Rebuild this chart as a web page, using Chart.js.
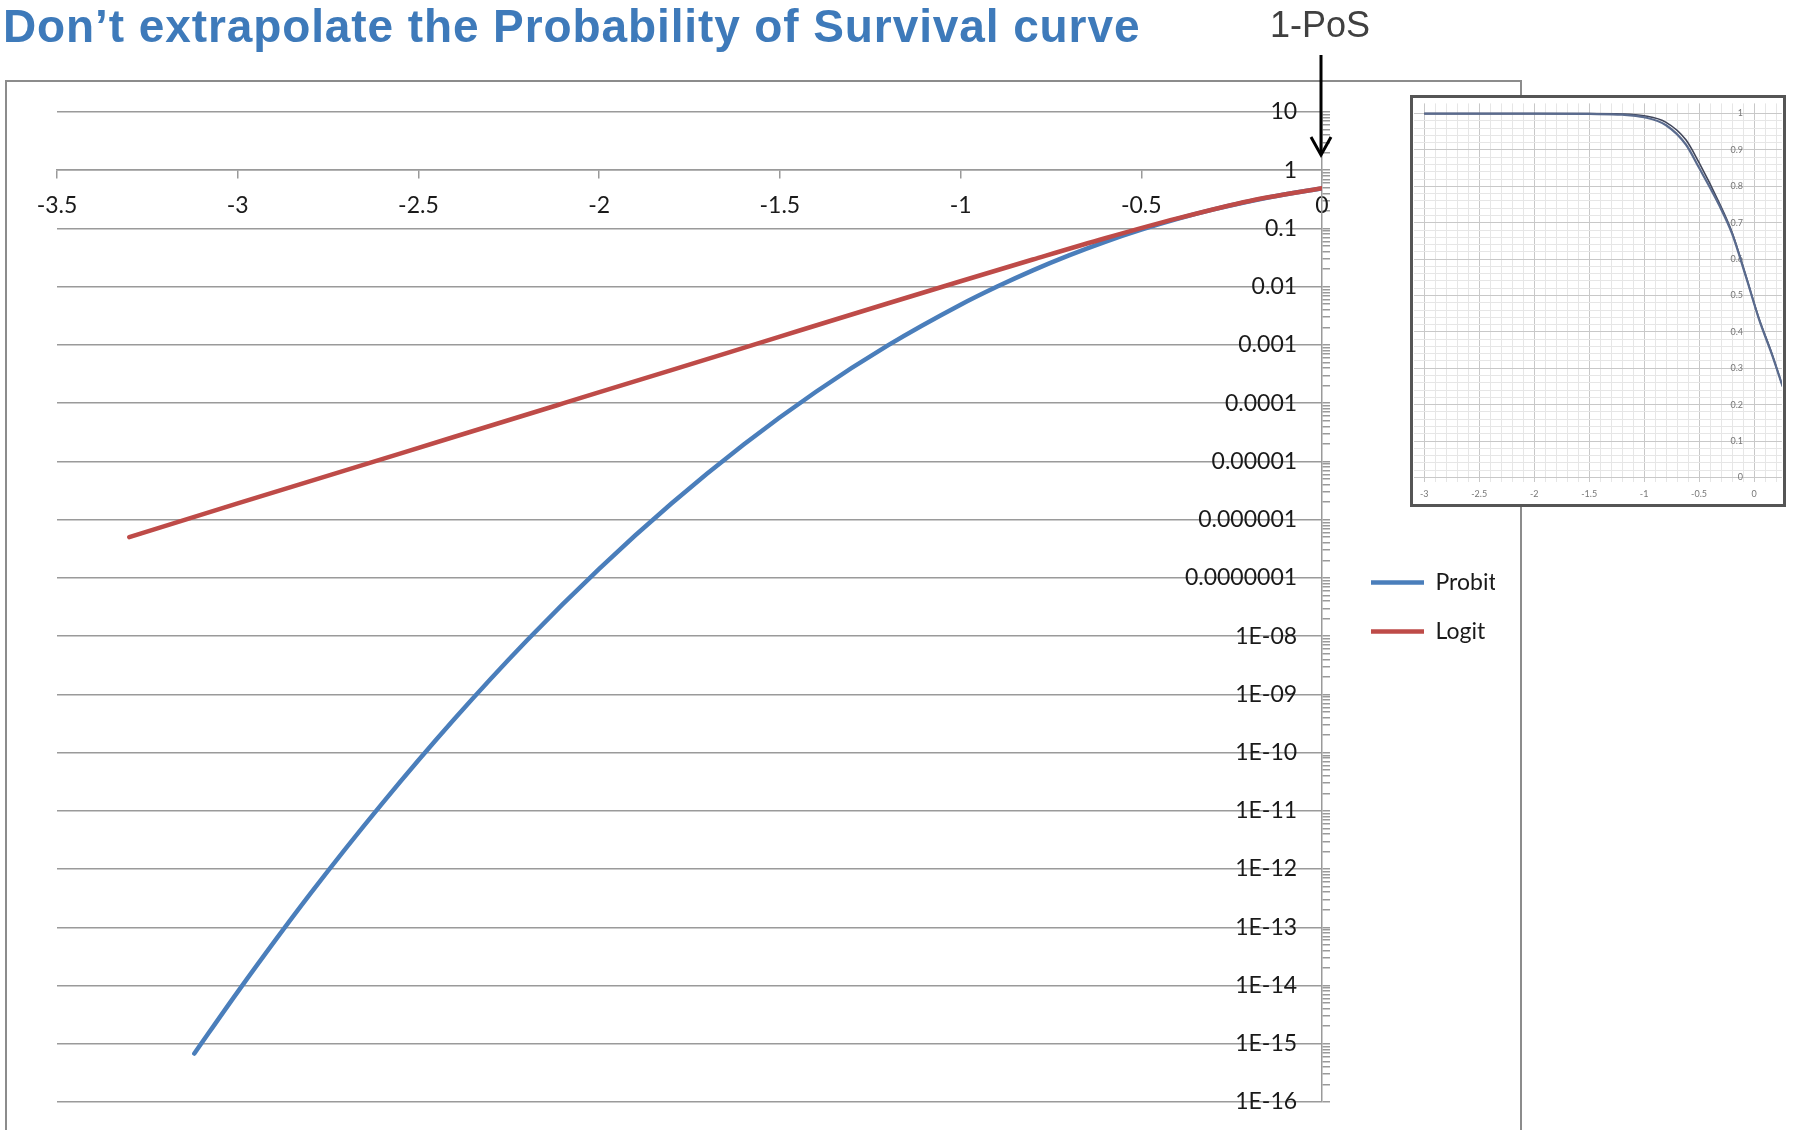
<!DOCTYPE html>
<html>
<head>
<meta charset="utf-8">
<script src="https://cdn.jsdelivr.net/npm/chart.js@4.4.1/dist/chart.umd.min.js"></script>
<style>
html,body{margin:0;padding:0;width:1794px;height:1130px;overflow:hidden;background:#fff;}
#frame{position:absolute;left:5px;top:80px;width:1517px;height:1120px;border:2px solid #8c8c8c;box-sizing:border-box;}
#title{position:absolute;left:3px;top:3px;font:bold 46px "Liberation Sans",Arial,sans-serif;color:#3E7ABA;letter-spacing:0.9px;white-space:nowrap;line-height:46px;}
#pos{position:absolute;left:1270px;top:7px;font:36px "Liberation Sans",Arial,sans-serif;color:#404040;line-height:36px;white-space:nowrap;}
#main{position:absolute;left:0;top:0;}
#insetBox{position:absolute;left:1410px;top:95px;width:376px;height:412px;box-sizing:border-box;border:3px solid #555;background:#fff;}
#inset{position:absolute;left:0;top:0;}
#arrow{position:absolute;left:0;top:0;}
</style>
</head>
<body>
<div id="frame"></div>
<canvas id="main" width="1794" height="1130"></canvas>
<div id="insetBox"><canvas id="inset" width="370" height="406"></canvas></div>
<svg id="arrow" width="1794" height="200"><line x1="1321" y1="55" x2="1321" y2="153" stroke="#000" stroke-width="3"/><polyline points="1311,137 1321,155 1331,137" fill="none" stroke="#000" stroke-width="3"/></svg>
<div id="title">Don’t extrapolate the Probability of Survival curve</div>
<div id="pos">1-PoS</div>
<script>
// ---------- main chart data (1-PoS, log scale) ----------
const probitX = [-3.12, -3.0, -2.8, -2.6, -2.4, -2.2, -2.0, -1.8, -1.6, -1.4, -1.2, -1.0, -0.9, -0.8, -0.7, -0.6, -0.5, -0.4, -0.3, -0.2, -0.1, 0];
const probitY = [6.8e-16, 7.8e-15, 3.7e-13, 1.34e-11, 3.8e-10, 8.4e-9, 1.43e-7, 1.89e-6, 1.95e-5, 1.57e-4, 9.9e-4, 4.9e-3, 0.00996, 0.0191, 0.0345, 0.059, 0.0954, 0.146, 0.2125, 0.294, 0.387, 0.487];
const logitX = [-3.30, -3.00, -2.70, -2.40, -2.10, -1.80, -1.50, -1.20, -1.00, -0.80, -0.60, -0.40, -0.20, 0];
const logitY = [5.0e-7, 1.9e-6, 7.1e-6, 2.65e-5, 9.9e-5, 3.7e-4, 1.39e-3, 5.2e-3, 0.0124, 0.0293, 0.068, 0.149, 0.297, 0.49];

const xTickValues = [-3.5, -3, -2.5, -2, -1.5, -1, -0.5, 0];
const xTickLabels = ['-3.5', '-3', '-2.5', '-2', '-1.5', '-1', '-0.5', '0'];
const yDecades = [10, 1, 0.1, 0.01, 0.001, 0.0001, 0.00001, 0.000001, 0.0000001, 1e-8, 1e-9, 1e-10, 1e-11, 1e-12, 1e-13, 1e-14, 1e-15, 1e-16];
const yTickLabels = ['10', '1', '0.1', '0.01', '0.001', '0.0001', '0.00001', '0.000001', '0.0000001', '1E-08', '1E-09', '1E-10', '1E-11', '1E-12', '1E-13', '1E-14', '1E-15', '1E-16'];
const minorMultipliers = [2, 3, 4, 5, 6, 7, 8, 9];
const seriesNames = ['Probit', 'Logit'];

// ---------- inset chart data (PoS, linear) ----------
const insetX = [-3.0, -2.0, -1.5, -1.2, -1.0, -0.8, -0.62, -0.5, -0.32, -0.2, -0.075, 0.045, 0.165, 0.26];
const insetProbit = [1.0, 1.0, 0.999, 0.997, 0.99, 0.968, 0.915, 0.851, 0.75, 0.67, 0.553, 0.435, 0.336, 0.25];
const insetLogit = [1.0, 1.0, 1.0, 0.999, 0.994, 0.976, 0.928, 0.865, 0.757, 0.674, 0.555, 0.437, 0.338, 0.25];
const insetXTickValues = [-3, -2.5, -2, -1.5, -1, -0.5, 0];
const insetXTickLabels = ['-3', '-2.5', '-2', '-1.5', '-1', '-0.5', '0'];
const insetYTickValues = [0, 0.1, 0.2, 0.3, 0.4, 0.5, 0.6, 0.7, 0.8, 0.9, 1];
const insetYTickLabels = ['0', '0.1', '0.2', '0.3', '0.4', '0.5', '0.6', '0.7', '0.8', '0.9', '1'];

Chart.defaults.font.family = 'Lato, "Open Sans", sans-serif';

const GRID = '#9a9a9a';
const TEXT = '#1a1a1a';
const near = (a, b) => Math.abs(a - b) < 1e-9;
const logNear = (a, b) => Math.abs(Math.log10(a) - Math.log10(b)) < 1e-6;

const yAllTicks = [];
yDecades.forEach((d, i) => {
  yAllTicks.push({ value: d, major: true });
  if (i > 0) minorMultipliers.forEach(m => yAllTicks.push({ value: m * d, major: false }));
});

new Chart(document.getElementById('main'), {
  type: 'line',
  data: {
    datasets: [
      { label: seriesNames[0], data: probitX.map((x, i) => ({ x, y: probitY[i] })), borderColor: '#4A7EBB', backgroundColor: '#4A7EBB',
        borderWidth: 4.5, pointRadius: 0, pointStyle: 'line', cubicInterpolationMode: 'monotone', borderCapStyle: 'round', order: 1 },
      { label: seriesNames[1], data: logitX.map((x, i) => ({ x, y: logitY[i] })), borderColor: '#BE4B48', backgroundColor: '#BE4B48',
        borderWidth: 4.5, pointRadius: 0, pointStyle: 'line', cubicInterpolationMode: 'monotone', borderCapStyle: 'round', order: 0 }
    ]
  },
  options: {
    responsive: false, animation: false, devicePixelRatio: 1,
    layout: { padding: { left: 57, top: 112, right: 299, bottom: 28 } },
    scales: {
      x: {
        type: 'linear', min: -3.5, max: 0, position: { y: 1 },
        afterBuildTicks: s => { s.ticks = xTickValues.map(v => ({ value: v })); },
        ticks: { callback: v => { const i = xTickValues.findIndex(t => near(t, v)); return i >= 0 ? xTickLabels[i] : ''; },
                 font: { size: 23 }, color: TEXT, padding: 14, autoSkip: false, maxRotation: 0 },
        grid: { drawOnChartArea: false, drawTicks: true, tickLength: 8, tickColor: GRID, lineWidth: 1.5 },
        border: { color: GRID, width: 1.5 }
      },
      y: {
        type: 'logarithmic', position: 'right', min: 1e-16, max: 10,
        afterBuildTicks: s => { s.ticks = yAllTicks.map(t => ({ value: t.value, major: t.major })); },
        afterFit: s => { s.width = 23; },
        ticks: { display: false },
        grid: { color: c => (c.tick && c.tick.major) ? GRID : 'rgba(0,0,0,0)', tickColor: GRID, tickLength: 8, lineWidth: 1.5 },
        border: { color: GRID, width: 1.5 }
      },
      yl: {
        axis: 'y', type: 'logarithmic', position: { x: -0.069 }, min: 1e-16, max: 10,
        afterBuildTicks: s => { s.ticks = yDecades.map(v => ({ value: v })); },
        ticks: { callback: v => { const i = yDecades.findIndex(d => logNear(d, v)); return i >= 0 ? yTickLabels[i] : ''; },
                 font: { size: 23 }, color: TEXT, padding: 0, autoSkip: false },
        grid: { display: false, drawTicks: false },
        border: { display: false }
      }
    },
    plugins: {
      legend: {
        position: 'right', align: 'center', maxWidth: 150,
        labels: { usePointStyle: true, pointStyleWidth: 53, padding: 26, color: TEXT, font: { size: 23 },
                  sort: (a, b) => a.datasetIndex - b.datasetIndex }
      },
      tooltip: { enabled: false }
    }
  }
});

// ---------- inset ----------
const insetXGrid = [];
for (let k = -30; k <= 2; k++) insetXGrid.push(k / 10);
const insetYGrid = [];
for (let k = 0; k <= 50; k++) insetYGrid.push(k / 50);
const MINOR = '#e6e6e6', MAJOR = '#c8c8c8', ITEXT = '#777';

new Chart(document.getElementById('inset'), {
  type: 'line',
  data: {
    datasets: [
      { label: seriesNames[0], data: insetX.map((x, i) => ({ x, y: insetProbit[i] })), borderColor: '#5a6b8e', borderWidth: 2.2, pointRadius: 0, cubicInterpolationMode: 'monotone' },
      { label: seriesNames[1], data: insetX.map((x, i) => ({ x, y: insetLogit[i] })), borderColor: '#41465a', borderWidth: 1.6, pointRadius: 0, cubicInterpolationMode: 'monotone' }
    ]
  },
  options: {
    responsive: false, animation: false, devicePixelRatio: 1,
    layout: { padding: 0 },
    scales: {
      x: {
        type: 'linear', min: -3.09, max: 0.253, position: 'bottom',
        afterBuildTicks: s => { s.ticks = insetXGrid.map(v => ({ value: v, major: insetXTickValues.some(t => near(t, v)) })); },
        afterFit: s => { s.height = 22; },
        ticks: { callback: v => { const i = insetXTickValues.findIndex(t => near(t, v)); return i >= 0 ? insetXTickLabels[i] : ''; },
                 font: { size: 9 }, color: ITEXT, padding: 7, autoSkip: false, maxRotation: 0 },
        grid: { color: c => (c.tick && c.tick.major) ? MAJOR : MINOR, drawTicks: false, lineWidth: 1 },
        border: { display: false }
      },
      y: {
        type: 'linear', min: -0.0127, max: 1.028, position: 'left',
        afterBuildTicks: s => { s.ticks = insetYGrid.map(v => ({ value: v, major: insetYTickValues.some(t => near(t, v)) })); },
        afterFit: s => { s.width = 0; },
        ticks: { display: false },
        grid: { color: c => (c.tick && c.tick.major) ? MAJOR : MINOR, drawTicks: false, lineWidth: 1 },
        border: { display: false }
      },
      yl: {
        axis: 'y', type: 'linear', min: -0.0127, max: 1.028, position: { x: -0.1 },
        afterBuildTicks: s => { s.ticks = insetYTickValues.map(v => ({ value: v })); },
        ticks: { callback: v => { const i = insetYTickValues.findIndex(t => near(t, v)); return i >= 0 ? insetYTickLabels[i] : ''; },
                 font: { size: 9 }, color: ITEXT, padding: 0, autoSkip: false },
        grid: { display: false, drawTicks: false },
        border: { display: false }
      }
    },
    plugins: { legend: { display: false }, tooltip: { enabled: false } }
  }
});
</script>
</body>
</html>
